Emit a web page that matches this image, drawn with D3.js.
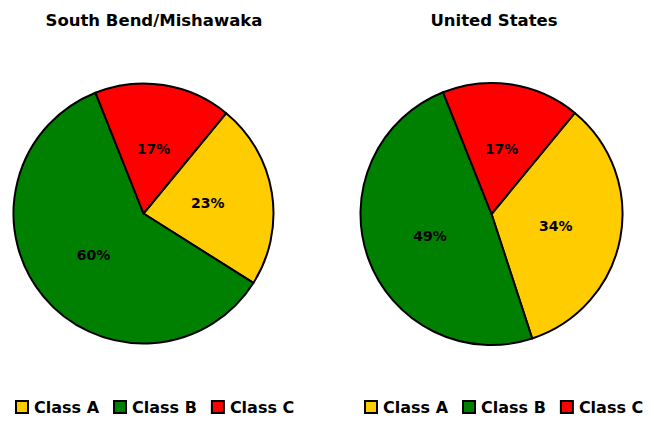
<!DOCTYPE html>
<html>
<head>
<meta charset="utf-8">
<script src="https://cdn.jsdelivr.net/npm/d3@7"></script>
<style>
  body { margin: 0; background: #fff; }
  svg { display: block; font-family: "DejaVu Sans", sans-serif; font-weight: bold; }
</style>
</head>
<body>
<div class="app"></div>
<script>
'use strict'

// Categories and values
var categories = ["Class A", "Class B", "Class C"];
var southBendValues = [23, 60, 17];
var unitedStatesValues = [34, 49, 17];
var titles = ["South Bend/Mishawaka", "United States"];
var colors = ["#FFCC00", "#008000", "#FF0000"];

var width = 654;
var height = 421;

var svg = d3.select(".app")
            .append("svg")
            .attr("width", width)
            .attr("height", height)
;

var color = d3.scaleOrdinal().domain(categories).range(colors);

// Start angle of first slice (degrees, clockwise from top)
var startDeg = 39.5;

var pie = d3.pie()
  .sort(null)
  .value(function(d) { return d.value; })
  .startAngle(startDeg * Math.PI / 180)
  .endAngle(startDeg * Math.PI / 180 + 2 * Math.PI)
;

var charts = [
  { title: titles[0], values: southBendValues, cx: 143.5, cy: 213.5, r: 130, titleX: 154, legendX: 16 },
  { title: titles[1], values: unitedStatesValues, cx: 491.5, cy: 214, r: 131, titleX: 494, legendX: 365 }
];

charts.forEach(function(c) {
  var data = categories.map(function(name, i) {
    return { name: name, value: c.values[i] };
  });

  // Title
  svg.append("text")
     .attr("x", c.titleX)
     .attr("y", 26)
     .attr("text-anchor", "middle")
     .style("font-size", "16.5px")
     .text(c.title)
  ;

  var g = svg.append("g")
             .attr("transform", "translate(" + c.cx + "," + c.cy + ")")
  ;

  var arc = d3.arc().innerRadius(0).outerRadius(c.r);
  var labelArc = d3.arc().innerRadius(c.r * 0.5).outerRadius(c.r * 0.5);

  var arcs = pie(data);

  g.selectAll("path")
   .data(arcs)
   .enter()
   .append("path")
   .attr("d", arc)
   .attr("fill", function(d) { return color(d.data.name); })
   .attr("stroke", "#000")
   .attr("stroke-width", 2)
   .attr("stroke-linejoin", "round")
  ;

  // Percent labels
  g.selectAll("text")
   .data(arcs)
   .enter()
   .append("text")
   .attr("transform", function(d) { return "translate(" + labelArc.centroid(d) + ")"; })
   .attr("text-anchor", "middle")
   .attr("dy", "0.36em")
   .style("font-size", "14px")
   .text(function(d) { return d.data.value + "%"; })
  ;

  // Legend
  var x = c.legendX;
  categories.forEach(function(name) {
    svg.append("rect")
       .attr("x", x)
       .attr("y", 401)
       .attr("width", 12)
       .attr("height", 12)
       .attr("fill", color(name))
       .attr("stroke", "#000")
       .attr("stroke-width", 2)
    ;
    var t = svg.append("text")
               .attr("x", x + 18)
               .attr("y", 413)
               .style("font-size", "16px")
               .text(name)
    ;
    x = x + 18 + t.node().getComputedTextLength() + 15;
  });
});
</script>
</body>
</html>
